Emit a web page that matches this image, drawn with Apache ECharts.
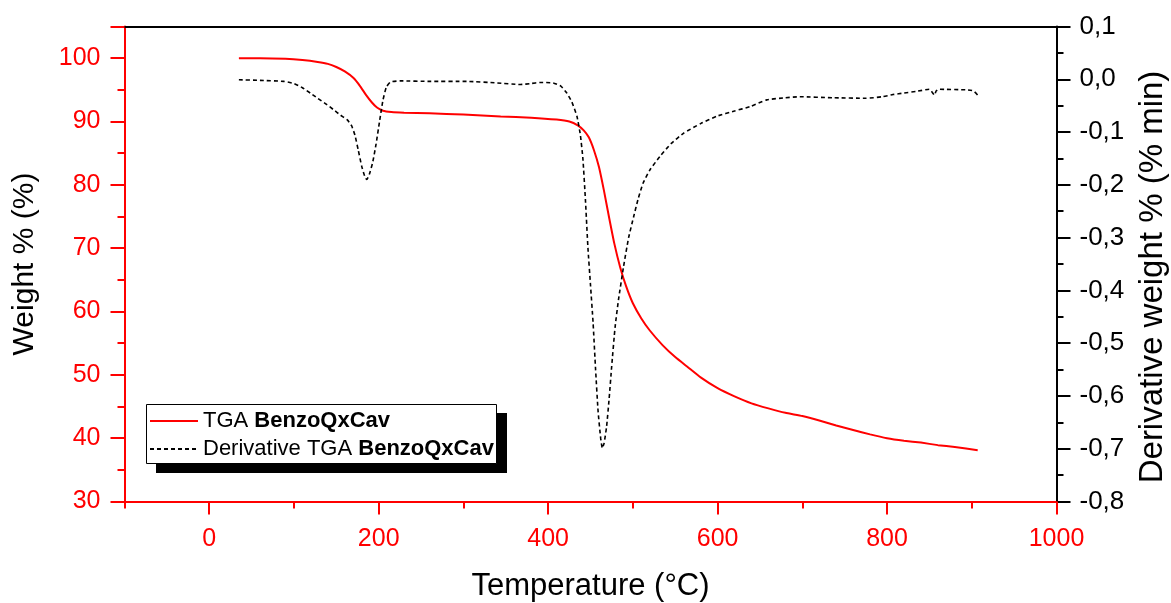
<!DOCTYPE html>
<html>
<head>
<meta charset="utf-8">
<script src="https://cdn.jsdelivr.net/npm/echarts@6/dist/echarts.min.js"></script>
<style>
  html, body { margin: 0; padding: 0; background: #fff; }
  #chart { width: 1171px; height: 603px; }
</style>
</head>
<body>
<div id="chart"></div>
<script>
// ---- Data ----
const tgaTemp   = [35, 60, 90, 110, 128, 140, 150, 160, 170, 178, 185, 192, 198, 205, 215, 230, 260, 300, 344, 380, 410, 425, 435, 442, 448, 454, 460, 466, 472, 478, 485, 492, 500, 510, 520, 535, 550, 565, 580, 600, 620, 640, 660, 680, 700, 720, 740, 760, 780, 800, 820, 840, 860, 880, 907];
const tgaWeight = [100.0, 100.0, 99.9, 99.7, 99.4, 99.1, 98.6, 97.9, 96.9, 95.6, 94.2, 93.0, 92.2, 91.7, 91.5, 91.4, 91.3, 91.1, 90.8, 90.6, 90.3, 90.0, 89.4, 88.6, 87.5, 85.5, 82.8, 79.0, 74.8, 70.8, 67.0, 64.0, 61.3, 58.9, 57.0, 54.7, 52.8, 51.2, 49.6, 47.9, 46.6, 45.5, 44.7, 44.0, 43.5, 42.8, 42.0, 41.3, 40.6, 40.0, 39.6, 39.3, 38.9, 38.6, 38.1];

const dtgTemp  = [35, 60, 88, 100, 110, 120, 128, 138, 147, 155, 163, 168, 172, 176, 180, 184, 186, 189, 193, 197, 201, 205, 209, 214, 226, 260, 304, 340, 367, 380, 390, 406, 415, 422, 428, 434, 438, 441, 444, 447, 450, 453, 456, 459, 462, 464, 466, 469, 472, 475, 479, 483, 489, 495, 501, 506, 512, 520, 532, 545, 560, 580, 599, 620, 638, 658, 680, 697, 736, 775, 795, 807, 820, 834, 850, 853, 856, 858, 861, 893, 902, 907];
const dtgValue = [-0.001, -0.002, -0.004, -0.008, -0.016, -0.027, -0.036, -0.047, -0.058, -0.068, -0.077, -0.088, -0.106, -0.135, -0.165, -0.186, -0.190, -0.180, -0.157, -0.122, -0.080, -0.040, -0.015, -0.005, -0.003, -0.004, -0.004, -0.007, -0.010, -0.008, -0.006, -0.007, -0.013, -0.026, -0.043, -0.070, -0.105, -0.150, -0.228, -0.320, -0.390, -0.460, -0.550, -0.630, -0.680, -0.699, -0.690, -0.658, -0.605, -0.544, -0.470, -0.418, -0.355, -0.300, -0.260, -0.228, -0.197, -0.172, -0.146, -0.122, -0.102, -0.084, -0.070, -0.060, -0.052, -0.039, -0.035, -0.033, -0.035, -0.036, -0.033, -0.029, -0.026, -0.023, -0.019, -0.024, -0.030, -0.022, -0.019, -0.020, -0.022, -0.030];

const xMajorTicks = [0, 200, 400, 600, 800, 1000];
const xMinorTicks = [-100, 100, 300, 500, 700, 900];
const seriesNames = ['TGA BenzoQxCav', 'Derivative TGA BenzoQxCav'];
const xTitle = 'Temperature (°C)';
const yLeftTitle = 'Weight % (%)';
const yRightTitle = 'Derivative weight % (% min)';

const FONT = '"Liberation Sans", Arial, sans-serif';
const RED = '#ff0000';

const tgaData = tgaTemp.map((t, i) => [t, tgaWeight[i]]);
const dtgData = dtgTemp.map((t, i) => [t, dtgValue[i]]);

const chart = echarts.init(document.getElementById('chart'), null, { renderer: 'canvas' });

chart.setOption({
  animation: false,
  backgroundColor: '#ffffff',
  textStyle: { fontFamily: FONT },
  grid: { left: 124.5, right: 114.5, top: 26.5, bottom: 101.5, containLabel: false, outerBoundsMode: 'none' },
  graphic: [
    { type: 'rect', z: 3, shape: { x: 156, y: 413, width: 351, height: 60 }, style: { fill: '#000' } },
    { type: 'rect', z: 3, shape: { x: 146.5, y: 404.5, width: 350, height: 59 }, style: { fill: '#fff', stroke: '#000', lineWidth: 1 } }
  ],
  legend: {
    z: 10,
    orient: 'vertical',
    left: 149,
    top: 410,
    itemWidth: 48,
    itemHeight: 14,
    itemGap: 6,
    padding: 0,
    data: seriesNames,
    itemStyle: { opacity: 0 },
    textStyle: {
      fontFamily: FONT, fontSize: 22, color: '#000',
      rich: { b: { fontFamily: FONT, fontSize: 22, fontWeight: 'bold', color: '#000' } }
    },
    formatter: function (name) {
      return name.replace('BenzoQxCav', '{b|BenzoQxCav}');
    }
  },
  xAxis: [
    {
      type: 'value', min: -100, max: 1000, position: 'bottom',
      name: xTitle, nameLocation: 'middle', nameGap: 69,
      nameTextStyle: { fontFamily: FONT, fontSize: 31, color: '#000' },
      axisLine: { show: true, onZero: false, lineStyle: { color: RED, width: 2 } },
      axisTick: { show: true, customValues: xMajorTicks, length: 13, lineStyle: { color: RED, width: 2 } },
      axisLabel: {
        customValues: xMajorTicks, color: RED, fontSize: 25, fontFamily: FONT, margin: 25,
        formatter: function (v) { return String(v); }
      },
      splitLine: { show: false }
    },
    {
      type: 'value', min: -100, max: 1000, position: 'bottom',
      axisLine: { show: false, onZero: false },
      axisTick: { show: true, customValues: xMinorTicks, length: 7, lineStyle: { color: RED, width: 2 } },
      axisLabel: { show: false },
      splitLine: { show: false }
    },
    {
      type: 'value', min: -100, max: 1000, position: 'top',
      axisLine: { show: true, onZero: false, lineStyle: { color: '#000', width: 2 } },
      axisTick: { show: false },
      axisLabel: { show: false },
      splitLine: { show: false }
    }
  ],
  yAxis: [
    {
      type: 'value', min: 30, max: 105, interval: 10, position: 'left',
      name: yLeftTitle, nameLocation: 'middle', nameGap: 85, nameRotate: 90,
      nameTextStyle: { fontFamily: FONT, fontSize: 30, color: '#000' },
      axisLine: { show: true, onZero: false, lineStyle: { color: RED, width: 2 } },
      axisTick: { show: true, length: 14, lineStyle: { color: RED, width: 2 } },
      minorTick: { show: true, splitNumber: 2, length: 7, lineStyle: { color: RED, width: 2 } },
      axisLabel: { color: RED, fontSize: 25, fontFamily: FONT, margin: 24, showMaxLabel: false },
      splitLine: { show: false }
    },
    {
      type: 'value', min: -0.8, max: 0.1, interval: 0.1, position: 'right',
      name: yRightTitle, nameLocation: 'middle', nameGap: 80, nameRotate: 90,
      nameTextStyle: { fontFamily: FONT, fontSize: 33, color: '#000', padding: [0, 26, 0, 0] },
      axisLine: { show: true, onZero: false, lineStyle: { color: '#000', width: 2 } },
      axisTick: { show: true, length: 14, lineStyle: { color: '#000', width: 2 } },
      minorTick: { show: true, splitNumber: 2, length: 7, lineStyle: { color: '#000', width: 2 } },
      axisLabel: {
        color: '#000', fontSize: 26, fontFamily: FONT, margin: 23,
        formatter: function (v) { return (Math.round(v * 10) / 10).toFixed(1).replace('.', ','); }
      },
      splitLine: { show: false }
    }
  ],
  series: [
    {
      name: seriesNames[0], type: 'line', xAxisIndex: 0, yAxisIndex: 0,
      data: tgaData, showSymbol: false, symbol: 'none',
      smooth: 0.15,
      lineStyle: { color: RED, width: 2 }, itemStyle: { color: RED }
    },
    {
      name: seriesNames[1], type: 'line', xAxisIndex: 0, yAxisIndex: 1,
      data: dtgData, showSymbol: false, symbol: 'none',
      smooth: 0.15,
      lineStyle: { color: '#000', width: 1.6, type: [4, 3] }, itemStyle: { color: '#000' }
    }
  ]
});
</script>
</body>
</html>
